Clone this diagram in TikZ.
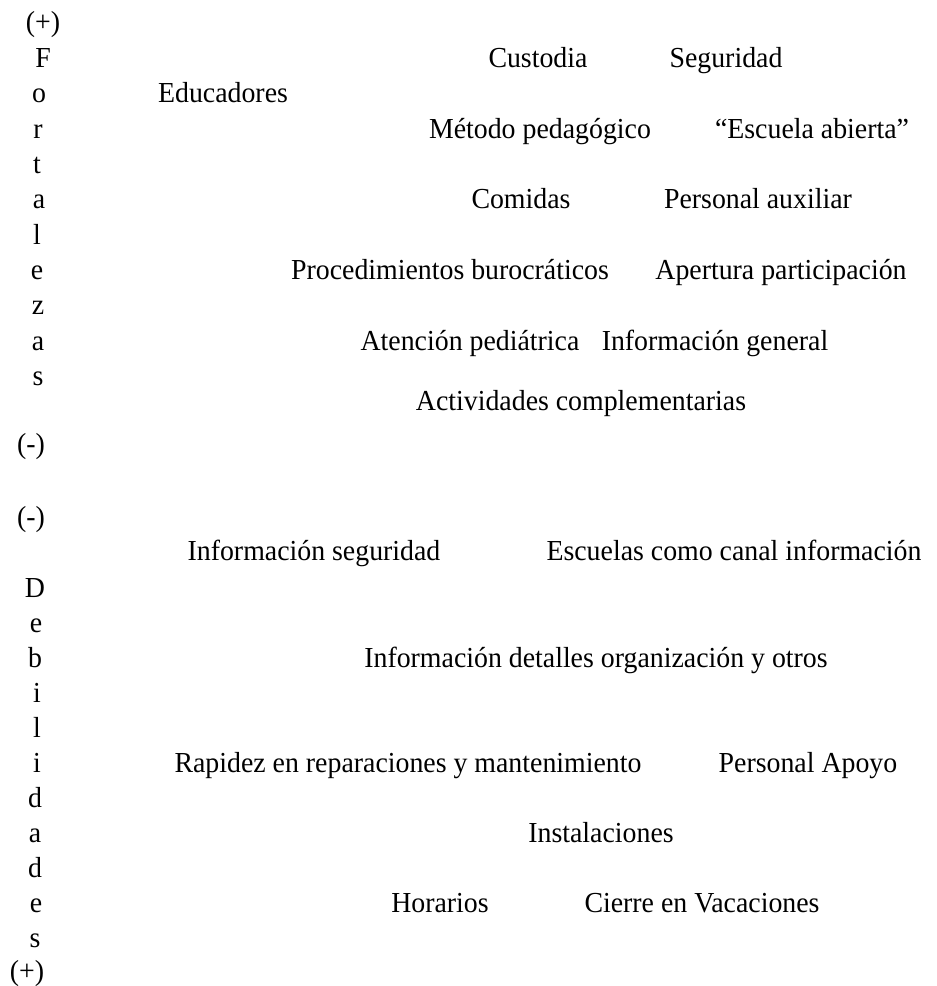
\documentclass[tikz,border=0pt]{standalone}
\usepackage{fontspec}
\setmainfont{Liberation Serif}[FakeStretch=0.96]
\begin{document}
\begin{tikzpicture}[x=1pt,y=-1pt,
  lbl/.style={inner sep=0pt, anchor=base, font=\fontsize{29}{34}\selectfont},
  axis/.style={inner sep=0pt, anchor=base, font=\fontsize{29}{34}\selectfont}]
\useasboundingbox (0,0) rectangle (937,986);
% left column top
\node[axis] (tp) at (43,31) {(+)};
\node[axis] (f1) at (43,67) {F};
\node[axis] (f2) at (39,102) {o};
\node[axis] (f3) at (38,138) {r};
\node[axis] (f4) at (37,173) {t};
\node[axis] (f5) at (39,208) {a};
\node[axis] (f6) at (37,244) {l};
\node[axis] (f7) at (37,279) {e};
\node[axis] (f8) at (38,314) {z};
\node[axis] (f9) at (38,350) {a};
\node[axis] (f10) at (38,385) {s};
\node[axis] (tm) at (31,453) {(-)};
% left column bottom
\node[axis] (bm) at (31,526) {(-)};
\node[axis] (d1) at (35,597) {D};
\node[axis] (d2) at (36,632) {e};
\node[axis] (d3) at (35,667) {b};
\node[axis] (d4) at (37,702) {i};
\node[axis] (d5) at (37,737) {l};
\node[axis] (d6) at (37,772) {i};
\node[axis] (d7) at (35,807) {d};
\node[axis] (d8) at (35,842) {a};
\node[axis] (d9) at (35,877) {d};
\node[axis] (d10) at (36,912) {e};
\node[axis] (d11) at (35,947) {s};
\node[axis] (bp) at (27,980) {(+)};
% fortalezas
\node[lbl] (custodia) at (538,67) {Custodia};
\node[lbl] (seguridad) at (726,67) {Seguridad};
\node[lbl] (educadores) at (223,102) {Educadores};
\node[lbl] (metodo) at (540,138) {Método pedagógico};
\node[lbl] (escuela) at (812,138) {“Escuela abierta”};
\node[lbl] (comidas) at (521,208) {Comidas};
\node[lbl] (auxiliar) at (758,208) {Personal auxiliar};
\node[lbl] (proced) at (450,279) {Procedimientos burocráticos};
\node[lbl] (apertura) at (781,279) {Apertura participación};
\node[lbl] (pediatrica) at (470,350) {Atención pediátrica};
\node[lbl] (infogen) at (715,350) {Información general};
\node[lbl] (activ) at (581,410) {Actividades complementarias};
% debilidades
\node[lbl] (infoseg) at (314,560) {Información seguridad};
\node[lbl] (canal) at (734,560) {Escuelas como canal información};
\node[lbl] (detalles) at (596,667) {Información detalles organización y otros};
\node[lbl] (rapidez) at (408,772) {Rapidez en reparaciones y mantenimiento};
\node[lbl] (apoyo) at (808,772) {Personal Apoyo};
\node[lbl] (instal) at (601,842) {Instalaciones};
\node[lbl] (horarios) at (440,912) {Horarios};
\node[lbl] (cierre) at (702,912) {Cierre en Vacaciones};
\end{tikzpicture}
\end{document}
